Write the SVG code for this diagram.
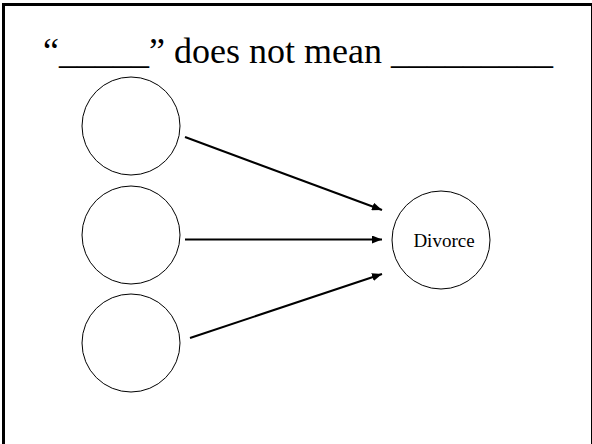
<svg xmlns="http://www.w3.org/2000/svg" width="592" height="444" viewBox="0 0 592 444">
<style>
.node{fill:#fff;stroke:#000;stroke-width:1}
.edge{stroke:#000;stroke-width:2;fill:none;marker-end:url(#arr)}
.title{font-family:"Liberation Serif","Times New Roman",serif;font-size:36px;fill:#000}
.lbl{font-family:"Liberation Serif","Times New Roman",serif;font-size:19px;fill:#000}
</style>
<defs>
<marker id="arr" viewBox="0 0 10 8" refX="10" refY="4" markerWidth="5" markerHeight="4" orient="auto" markerUnits="strokeWidth">
<path d="M0,0 L10,4 L0,8 z" fill="#000"/>
</marker>
</defs>
<rect x="0" y="0" width="592" height="444" fill="#fff"/>
<rect x="3.5" y="4.5" width="589" height="460" fill="none" stroke="#000" stroke-width="3"/>
<text class="title" x="43" y="63">“_____” does not mean _________</text>
<g id="n1"><circle class="node" cx="131" cy="126" r="49"/></g>
<g id="n2"><circle class="node" cx="131" cy="235" r="49"/></g>
<g id="n3"><circle class="node" cx="131" cy="343" r="49"/></g>
<g id="divorce"><circle class="node" cx="441" cy="240" r="49"/><text class="lbl" x="444" y="247" text-anchor="middle">Divorce</text></g>
<g id="connectors">
<line class="edge" x1="185" y1="137" x2="382" y2="210"/>
<line class="edge" x1="185" y1="239.5" x2="382" y2="239.5"/>
<line class="edge" x1="190" y1="338" x2="382" y2="274"/>
</g>
</svg>
